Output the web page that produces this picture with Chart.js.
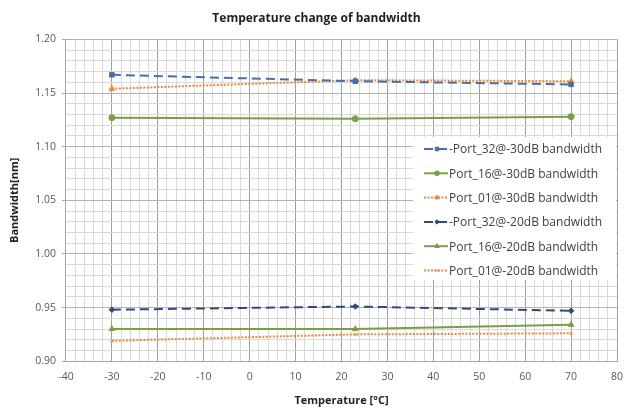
<!DOCTYPE html>
<html>
<head>
<meta charset="utf-8">
<script src="https://cdn.jsdelivr.net/npm/chart.js@4.4.0/dist/chart.umd.min.js"></script>
<style>
  html, body { margin: 0; padding: 0; background: #fff; }
  #wrap { width: 625px; height: 411px; }
</style>
</head>
<body>
<div id="wrap"><canvas id="bwChart" width="625" height="411"></canvas></div>
<script>
// Temperatures measured (deg C)
const temps = [-30, 23, 70];

// Bandwidth [nm] per port / level
const port32_30 = [1.167, 1.161, 1.158];
const port16_30 = [1.127, 1.126, 1.128];
const port01_30 = [1.154, 1.162, 1.161];
const port32_20 = [0.948, 0.951, 0.947];
const port16_20 = [0.930, 0.930, 0.934];
const port01_20 = [0.919, 0.925, 0.926];

const seriesNames = [
    '-Port_32@-30dB bandwidth',
    'Port_16@-30dB bandwidth',
    'Port_01@-30dB bandwidth',
    '-Port_32@-20dB bandwidth',
    'Port_16@-20dB bandwidth',
    'Port_01@-20dB bandwidth'
];

// Axis tick labels
const xTickLabels = [-40, -30, -20, -10, 0, 10, 20, 30, 40, 50, 60, 70, 80];
const yTickLabels = [0.90, 0.95, 1.00, 1.05, 1.10, 1.15, 1.20];

const toPoints = (vals) => vals.map((v, i) => ({ x: temps[i], y: v }));

const BLUE = '#4a6fa8';
const DARKBLUE = '#2f4b7c';
const GREEN = '#7a9f45';
const ORANGE = '#f0883a';

function makeSet(label, vals, color, dash, style, radius) {
    return {
        label: label,
        data: toPoints(vals),
        showLine: true,
        borderColor: color,
        backgroundColor: color,
        borderWidth: 2,
        borderDash: dash,
        pointStyle: style,
        pointRadius: radius,
        pointBorderWidth: 1,
        pointBorderColor: color,
        pointBackgroundColor: color
    };
}

const datasets = [
    makeSet(seriesNames[0], port32_30, BLUE, [9, 5], 'rect', 3.2),
    makeSet(seriesNames[1], port16_30, GREEN, [], 'circle', 3),
    makeSet(seriesNames[2], port01_30, ORANGE, [2, 1.5], 'triangle', 3.2),
    makeSet(seriesNames[3], port32_20, DARKBLUE, [9, 5], 'rectRot', 2.8),
    makeSet(seriesNames[4], port16_20, GREEN, [], 'triangle', 3.2),
    makeSet(seriesNames[5], port01_20, ORANGE, [2, 1.5], 'crossRot', 2.2)
];

// Legend drawn inside the plot area, like the original
const insideLegend = {
    id: 'insideLegend',
    afterDraw(chart) {
        const ctx = chart.ctx;
        const bx = 413, by = 137, bw = 203, bh = 143;
        ctx.save();
        ctx.fillStyle = '#ffffff';
        ctx.fillRect(bx, by, bw, bh);
        ctx.font = '12px "Open Sans", sans-serif';
        ctx.textBaseline = 'middle';
        chart.data.datasets.forEach((ds, i) => {
            const y = by + 12 + i * 24.3;
            ctx.strokeStyle = ds.borderColor;
            ctx.lineWidth = ds.borderWidth;
            ctx.setLineDash(ds.borderDash);
            ctx.beginPath();
            ctx.moveTo(424, y);
            ctx.lineTo(448, y);
            ctx.stroke();
            ctx.setLineDash([]);
            ctx.fillStyle = ds.pointBackgroundColor;
            ctx.lineWidth = 1;
            Chart.helpers.drawPoint(ctx, {
                pointStyle: ds.pointStyle,
                radius: ds.pointRadius * 0.8,
                rotation: 0,
                borderWidth: 1
            }, 437, y);
            ctx.fillStyle = '#404040';
            ctx.fillText(ds.label, 449, y + 1);
        });
        ctx.restore();
    }
};

const isMajorX = (v) => Math.round(v) % 10 === 0;
const isMajorY = (v) => Math.round(v * 100) % 5 === 0;

new Chart(document.getElementById('bwChart'), {
    type: 'scatter',
    data: { datasets: datasets },
    plugins: [insideLegend],
    options: {
        responsive: false,
        animation: false,
        layout: { padding: { left: 8, right: 0, top: 0, bottom: 4 } },
        plugins: {
            legend: { display: false },
            tooltip: { enabled: false },
            title: {
                display: true,
                text: 'Temperature change of bandwidth',
                color: '#222',
                font: { family: '"Open Sans", sans-serif', size: 12, weight: 'bold' },
                padding: { top: 11, bottom: 14 }
            }
        },
        scales: {
            x: {
                type: 'linear',
                min: xTickLabels[0],
                max: xTickLabels[xTickLabels.length - 1],
                afterFit: (s) => { s.paddingRight = 8; },
                ticks: {
                    stepSize: 2,
                    autoSkip: false,
                    maxRotation: 0,
                    color: '#595959',
                    font: { family: '"Open Sans", sans-serif', size: 10.5 },
                    padding: 10,
                    callback: (v) => xTickLabels.includes(Math.round(v)) && isMajorX(v) ? String(Math.round(v)) : ''
                },
                grid: {
                    color: (c) => isMajorX(c.tick.value) ? '#a0a0a0' : '#d9d9d9',
                    drawTicks: false
                },
                border: { color: '#a6a6a6' },
                title: {
                    display: true,
                    text: 'Temperature [°C]',
                    color: '#222',
                    font: { family: '"Open Sans", sans-serif', size: 11, weight: 'bold' },
                    padding: { top: 0, bottom: 0 }
                }
            },
            y: {
                type: 'linear',
                min: yTickLabels[0],
                max: yTickLabels[yTickLabels.length - 1],
                ticks: {
                    stepSize: 0.01,
                    autoSkip: false,
                    color: '#595959',
                    font: { family: '"Open Sans", sans-serif', size: 10.5 },
                    padding: 6,
                    callback: (v) => isMajorY(v) ? v.toFixed(2) : ''
                },
                grid: {
                    color: (c) => isMajorY(c.tick.value) ? '#b3b3b3' : '#d9d9d9',
                    tickLength: 4,
                    tickColor: (c) => isMajorY(c.tick.value) ? '#a6a6a6' : 'rgba(0,0,0,0)'
                },
                border: { color: '#a6a6a6' },
                title: {
                    display: true,
                    text: 'Bandwidth[nm]',
                    color: '#222',
                    font: { family: '"Open Sans", sans-serif', size: 11, weight: 'bold' },
                    padding: { top: 0, bottom: 8 }
                }
            }
        }
    }
});
</script>
</body>
</html>
